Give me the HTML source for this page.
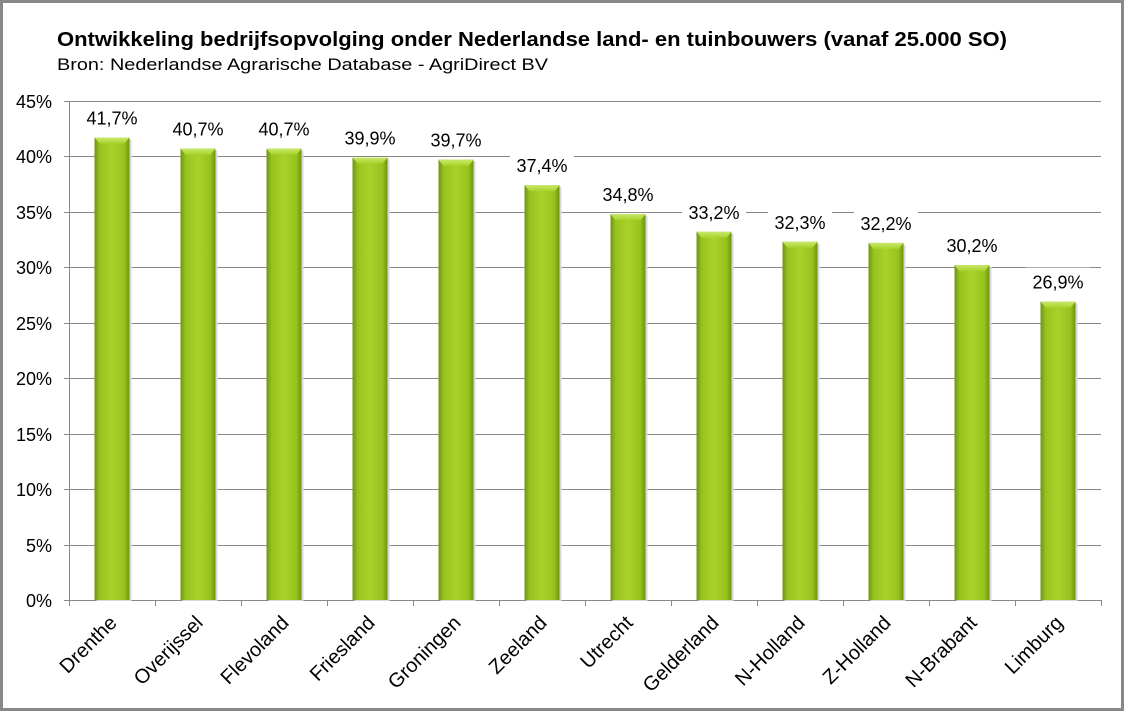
<!DOCTYPE html>
<html><head><meta charset="utf-8"><style>
html,body{margin:0;padding:0;background:#fff}
svg{display:block;font-family:"Liberation Sans",sans-serif}
</style></head><body>
<svg width="1124" height="711" viewBox="0 0 1124 711" xmlns="http://www.w3.org/2000/svg">
<defs>
<linearGradient id="g" x1="0" y1="0" x2="1" y2="0">
<stop offset="0" stop-color="#6f9412"/>
<stop offset="0.15" stop-color="#98c21e"/>
<stop offset="0.5" stop-color="#a9d32a"/>
<stop offset="0.85" stop-color="#98c21e"/>
<stop offset="1" stop-color="#6f9412"/>
</linearGradient>
<linearGradient id="t" x1="0" y1="0" x2="0" y2="1">
<stop offset="0" stop-color="#c8e86a"/>
<stop offset="1" stop-color="#a9d32a"/>
</linearGradient>
</defs>
<rect x="1.5" y="1.5" width="1121" height="708" fill="#fff" stroke="#888" stroke-width="3"/>
<text x="57" y="46" font-size="20" font-weight="bold" fill="#000" textLength="950" lengthAdjust="spacingAndGlyphs">Ontwikkeling bedrijfsopvolging onder Nederlandse land- en tuinbouwers (vanaf 25.000 SO)</text>
<text x="57" y="70" font-size="17" fill="#000" textLength="491" lengthAdjust="spacingAndGlyphs">Bron: Nederlandse Agrarische Database - AgriDirect BV</text>
<g stroke="#888" stroke-width="1">
<line x1="64" y1="101.5" x2="1101" y2="101.5"/>
<line x1="64" y1="156.5" x2="1101" y2="156.5"/>
<line x1="64" y1="212.5" x2="1101" y2="212.5"/>
<line x1="64" y1="267.5" x2="1101" y2="267.5"/>
<line x1="64" y1="323.5" x2="1101" y2="323.5"/>
<line x1="64" y1="378.5" x2="1101" y2="378.5"/>
<line x1="64" y1="434.5" x2="1101" y2="434.5"/>
<line x1="64" y1="489.5" x2="1101" y2="489.5"/>
<line x1="64" y1="545.5" x2="1101" y2="545.5"/>
<line x1="64" y1="600.5" x2="1101" y2="600.5"/>
<line x1="69.5" y1="101" x2="69.5" y2="600"/>
</g>
<g stroke="#888" stroke-width="1" id="ticks"></g>
<g font-size="18" fill="#000" text-anchor="end">
<text x="52" y="108">45%</text><text x="52" y="163">40%</text><text x="52" y="219">35%</text>
<text x="52" y="274">30%</text><text x="52" y="330">25%</text><text x="52" y="385">20%</text>
<text x="52" y="441">15%</text><text x="52" y="496">10%</text><text x="52" y="552">5%</text>
<text x="52" y="607">0%</text>
</g>
<g id="bars"></g>
<script>
var d=[["Drenthe",41.7],["Overijssel",40.7],["Flevoland",40.7],["Friesland",39.9],["Groningen",39.7],["Zeeland",37.4],["Utrecht",34.8],["Gelderland",33.2],["N-Holland",32.3],["Z-Holland",32.2],["N-Brabant",30.2],["Limburg",26.9]];
var ns="http://www.w3.org/2000/svg",b=document.getElementById("bars"),tk=document.getElementById("ticks");
function el(n,a,p,txt){var e=document.createElementNS(ns,n);for(var k in a)e.setAttribute(k,a[k]);if(txt)e.textContent=txt;p.appendChild(e);return e;}
for(var i=0;i<=12;i++){var x=69.5+86*i;el("line",{x1:x,y1:600,x2:x,y2:606},tk);}
d.forEach(function(r,i){
var c=112+86*i,top=600-r[1]*11.09,w=35,x=c-w/2;
el("rect",{x:x+2,y:top+2,width:w,height:600-top-1,fill:"#d8d8d8"},b);
el("rect",{x:x,y:top,width:w,height:600-top,fill:"url(#g)"},b);
el("polygon",{points:(x)+","+top+" "+(x+w)+","+top+" "+(x+w-5)+","+(top+6)+" "+(x+5)+","+(top+6),fill:"url(#t)"},b);
var s=r[1].toFixed(1).replace(".",",")+"%";
el("rect",{x:c-32,y:top-34,width:64,height:26,fill:"#fff"},b);
el("text",{x:c,y:top-13,"font-size":18,"text-anchor":"middle",fill:"#000"},b,s);
el("text",{x:c+6,y:624,"font-size":20,"text-anchor":"end",fill:"#000",transform:"rotate(-45 "+(c+6)+" 624)"},b,r[0]);
});
</script>
</svg>
</body></html>
